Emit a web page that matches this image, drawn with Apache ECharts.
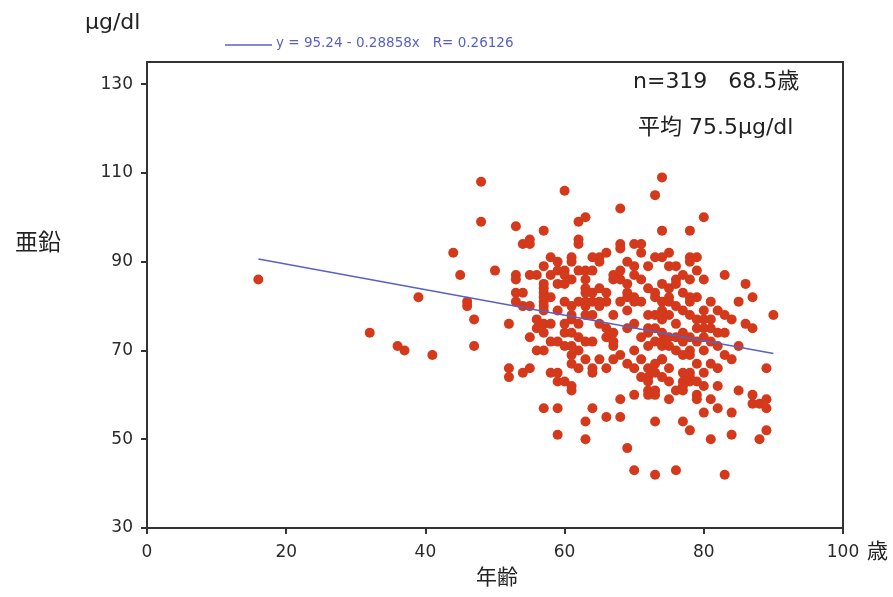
<!DOCTYPE html>
<html>
<head>
<meta charset="utf-8">
<script src="https://cdn.jsdelivr.net/npm/echarts@6/dist/echarts.min.js"></script>
<style>
html,body{margin:0;padding:0;background:#fff;}
#chart{width:893px;height:597px;}
</style>
</head>
<body>
<div id="chart"></div>
<script>
// x tick labels / y tick labels
const xTicks = [0, 20, 40, 60, 80, 100];
const yTicks = [30, 50, 70, 90, 110, 130];

// age (歳), zinc (μg/dl) pairs
const points = [
[16,86],[32,74],[36,71],[37,70],[39,82],[41,69],[44,92],[45,87],[46,81],[46,80],[47,77],[47,71],[48,108],[48,99],[50,88],
[52,76],[52,66],[52,64],
[53,98],[53,87],[53,86],[53,83],[54,83],[53,81],[54,80],[55,80],[54,94],[55,95],[55,94],[55,87],[56,87],[55,73],[54,65],[55,66],
[56,70],[57,70],[57,89],[57,97],[57,85],[57,84],[57,83],[57,82],[57,81],[58,82],[57,80],[57,79],[56,77],[57,76],[58,76],[57,74],
[58,72],[59,72],[60,71],[61,71],[56,75],
[58,91],[59,90],[59,88],[59,85],[59,65],[59,63],[60,63],[61,62],[61,61],[57,57],[59,57],[59,51],
[60,106],[60,88],[60,87],[60,85],[60,81],[61,80],[61,78],[61,77],[61,91],[61,90],[61,86],[60,74],[61,74],[61,69],[61,67],[60,76],
[62,99],[63,100],[62,95],[62,94],
[63,88],[64,88],[63,86],[63,83],[63,84],[64,83],[62,81],[63,81],[64,81],[63,80],[62,76],[63,78],[64,78],[64,72],[63,72],[62,70],
[62,66],[64,66],[64,65],[63,54],[63,50],[64,57],
[65,91],[66,92],[65,90],[65,81],[66,81],[65,80],[65,76],[66,75],[67,74],[66,73],[67,72],[67,71],[65,68],[66,66],[66,55],[67,87],[67,86],
[68,102],[68,94],[68,93],[68,81],[69,82],[69,79],[69,85],[69,83],[68,69],[69,67],[69,75],[68,59],[68,55],[69,48],[70,60],[70,43],
[70,94],[71,94],[71,92],[70,89],[70,87],[71,86],[70,82],[70,81],[71,81],[70,76],[71,68],
[72,84],[73,83],[73,82],[72,78],[72,75],[73,75],[72,74],[73,72],[74,72],[72,66],[72,64],[72,63],[72,61],[72,60],[73,60],[73,61],
[73,65],[73,54],[73,42],[73,105],[73,91],[74,91],[74,109],[74,97],[75,89],[75,84],[75,82],[74,81],[74,68],
[75,92],[76,89],[76,86],[76,85],[74,85],[75,81],[77,83],[78,82],[79,82],[76,80],[77,79],[78,78],[74,77],[79,77],[80,77],[81,77],
[74,74],[75,73],[76,73],[77,74],[78,73],[79,75],[80,75],[81,75],[80,73],[83,74],[74,71],[75,71],[77,72],[78,70],[79,72],[80,70],
[81,72],[82,71],[85,71],[83,69],[74,68],[77,69],[78,69],[79,67],[81,67],[82,66],[80,65],[77,65],[78,65],[89,66],[75,63],[76,61],
[77,63],[78,63],[79,63],[80,62],[77,61],[85,61],[79,60],[79,59],[81,59],[87,60],[88,58],[89,59],[87,58],[89,57],[80,56],[82,57],
[84,56],[77,54],[78,52],[81,50],[84,51],[88,50],[89,52],[76,43],[83,42],[77,62],[78,64],
[78,97],[78,91],[79,91],[78,90],[79,88],[83,87],[86,85],[87,82],[85,81],[90,78],[80,100],[81,81],[82,79],[83,78],[84,77],[78,81],
[80,79],[87,75],[78,86],
[58,65],[65,84],[67,78],[66,83],[68,86],[68,88],[69,90],[64,91],[62,88],[58,87],[59,79],[62,73],[63,68],[67,68],[70,66],[71,64],
[70,70],[71,73],[72,71],[73,78],[74,79],[75,78],[76,76],[76,70],[75,66],[74,64],[73,67],[75,59],[82,62],[84,68],[82,74],[86,76],
[80,86],[77,87],[72,89]
];

// regression line end points
const fitLine = [[16, 90.6], [90, 69.3]];

const legendText = 'y = 95.24 - 0.28858x   R= 0.26126';
const statLine1 = 'n=319   68.5歳';
const statLine2 = '平均 75.5μg/dl';

const chart = echarts.init(document.getElementById('chart'), null, {renderer: 'canvas'});
const txtFont = '"DejaVu Sans", "Noto Sans CJK JP", sans-serif';
const cjkFont = '"Noto Sans CJK JP", sans-serif';
const axisColor = '#333';

chart.setOption({
  animation: false,
  backgroundColor: '#fff',
  grid: {left: 147, right: 50, top: 62, bottom: 69, show: true, borderColor: axisColor, borderWidth: 2},
  xAxis: {
    type: 'value', min: xTicks[0], max: xTicks[xTicks.length - 1], interval: 20,
    splitLine: {show: false},
    axisLine: {lineStyle: {color: axisColor, width: 2}},
    axisTick: {length: 6, lineStyle: {color: axisColor, width: 2}},
    axisLabel: {color: '#2a2a2a', fontSize: 17, fontFamily: txtFont, margin: 16}
  },
  yAxis: {
    type: 'value', min: yTicks[0], max: 135, interval: 20,
    splitLine: {show: false},
    axisLine: {lineStyle: {color: axisColor, width: 2}},
    axisTick: {length: 6, lineStyle: {color: axisColor, width: 2}},
    axisLabel: {color: '#2a2a2a', fontSize: 17, fontFamily: txtFont, margin: 14, showMaxLabel: false}
  },
  series: [
    {
      type: 'scatter', data: points, symbolSize: 10,
      itemStyle: {color: '#d4391b', opacity: 1}
    },
    {
      type: 'line', data: fitLine, symbol: 'none',
      lineStyle: {color: '#5961c4', width: 1.5}
    }
  ],
  graphic: [
    {type: 'text', left: 85, top: 12, style: {text: 'μg/dl', font: '22px ' + txtFont, fill: '#222'}},
    {type: 'text', left: 15, top: 230, style: {text: '亜鉛', font: '23px ' + cjkFont, fill: '#222'}},
    {type: 'text', left: 476, top: 566, style: {text: '年齢', font: '21px ' + cjkFont, fill: '#222'}},
    {type: 'text', left: 867, top: 540, style: {text: '歳', font: '21px ' + cjkFont, fill: '#222'}},
    {type: 'line', shape: {x1: 225, y1: 45, x2: 272, y2: 45}, style: {stroke: '#5961c4', lineWidth: 1.5}},
    {type: 'text', left: 276, top: 37, style: {text: legendText, font: '13.5px ' + txtFont, fill: '#5961c4'}},
    {type: 'text', left: 633, top: 71, style: {text: statLine1, font: '22px ' + txtFont, fill: '#222'}},
    {type: 'text', left: 638, top: 117, style: {text: statLine2, font: '22px ' + txtFont, fill: '#222'}}
  ]
});
</script>
</body>
</html>
